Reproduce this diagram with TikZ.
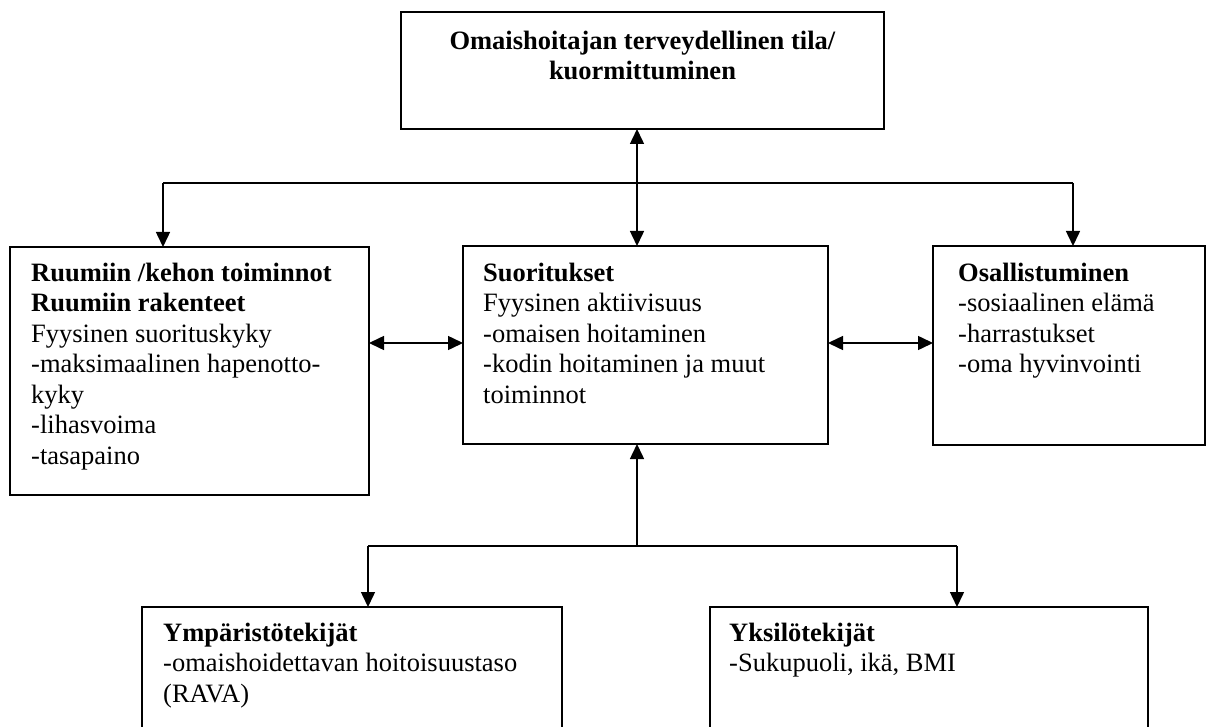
\documentclass[tikz,border=0pt]{standalone}
\usepackage{fontspec}
\setmainfont{Liberation Serif}
\usetikzlibrary{arrows.meta}
\begin{document}
\begin{tikzpicture}[x=1pt,y=-1pt,
  box/.style={draw, line width=1.5pt, anchor=north west, inner sep=0pt, outer sep=0pt},
  txt/.style={anchor=north west, inner sep=0pt, align=left, font=\fontsize{26.5}{30.5}\selectfont},
  conn/.style={line width=1.5pt},
  tip/.style={-{Triangle[length=15pt,width=14pt]}},
  tips/.style={{Triangle[length=15pt,width=14pt]}-{Triangle[length=15pt,width=14pt]}}
]
\useasboundingbox (0,0) rectangle (1207,727);
\clip (0,0) rectangle (1207,727);

% boxes
\node[box, minimum width=483pt, minimum height=117pt] (top) at (401,12) {};
\node[box, minimum width=359pt, minimum height=248pt] (left) at (10,247) {};
\node[box, minimum width=365pt, minimum height=198pt] (mid) at (463,246) {};
\node[box, minimum width=272pt, minimum height=199pt] (right) at (933,246) {};
\node[box, minimum width=420pt, minimum height=140pt] (bl) at (142,607) {};
\node[box, minimum width=438pt, minimum height=140pt] (br) at (710,607) {};

% texts
\node[txt, anchor=north, align=center] (topt) at (642.5,29)
  {\rule{0pt}{20pt}\textbf{Omaishoitajan terveydellinen tila/}\\\textbf{kuormittuminen}};
\node[txt] (lt) at (31,261)
  {\rule{0pt}{20pt}\textbf{Ruumiin /kehon toiminnot}\\\textbf{Ruumiin rakenteet}\\Fyysinen suorituskyky\\-maksimaalinen hapenotto-\\kyky\\-lihasvoima\\-tasapaino};
\node[txt] (mt) at (483,261)
  {\rule{0pt}{20pt}\textbf{Suoritukset}\\Fyysinen aktiivisuus\\-omaisen hoitaminen\\-kodin hoitaminen ja muut\\toiminnot};
\node[txt] (rt) at (958,261)
  {\rule{0pt}{20pt}\textbf{Osallistuminen}\\-sosiaalinen elämä\\-harrastukset\\-oma hyvinvointi};
\node[txt] (blt) at (163,621)
  {\rule{0pt}{20pt}\textbf{Ympäristötekijät}\\-omaishoidettavan hoitoisuustaso\\(RAVA)};
\node[txt] (brt) at (729,621)
  {\rule{0pt}{20pt}\textbf{Yksilötekijät}\\-Sukupuoli, ikä, BMI};

% junction coordinates
\coordinate (c1) at (637,183);
\coordinate (hl) at (163,183);
\coordinate (hr) at (1073,183);
\coordinate (m) at (0,343);
\coordinate (c2) at (637,546);
\coordinate (bl1) at (368,546);
\coordinate (br1) at (957,546);

% connectors
\draw[conn, tips] (c1 |- top.south) -- (c1 |- mid.north);
\draw[conn] (hl) -- (hr);
\draw[conn, tip] (hl) -- (hl |- left.north);
\draw[conn, tip] (hr) -- (hr |- right.north);
\draw[conn, tips] (left.east |- m) -- (mid.west |- m);
\draw[conn, tips] (mid.east |- m) -- (right.west |- m);
\draw[conn, tip] (c2) -- (c2 |- mid.south);
\draw[conn] (bl1) -- (br1);
\draw[conn, tip] (bl1) -- (bl1 |- bl.north);
\draw[conn, tip] (br1) -- (br1 |- br.north);
\end{tikzpicture}
\end{document}
